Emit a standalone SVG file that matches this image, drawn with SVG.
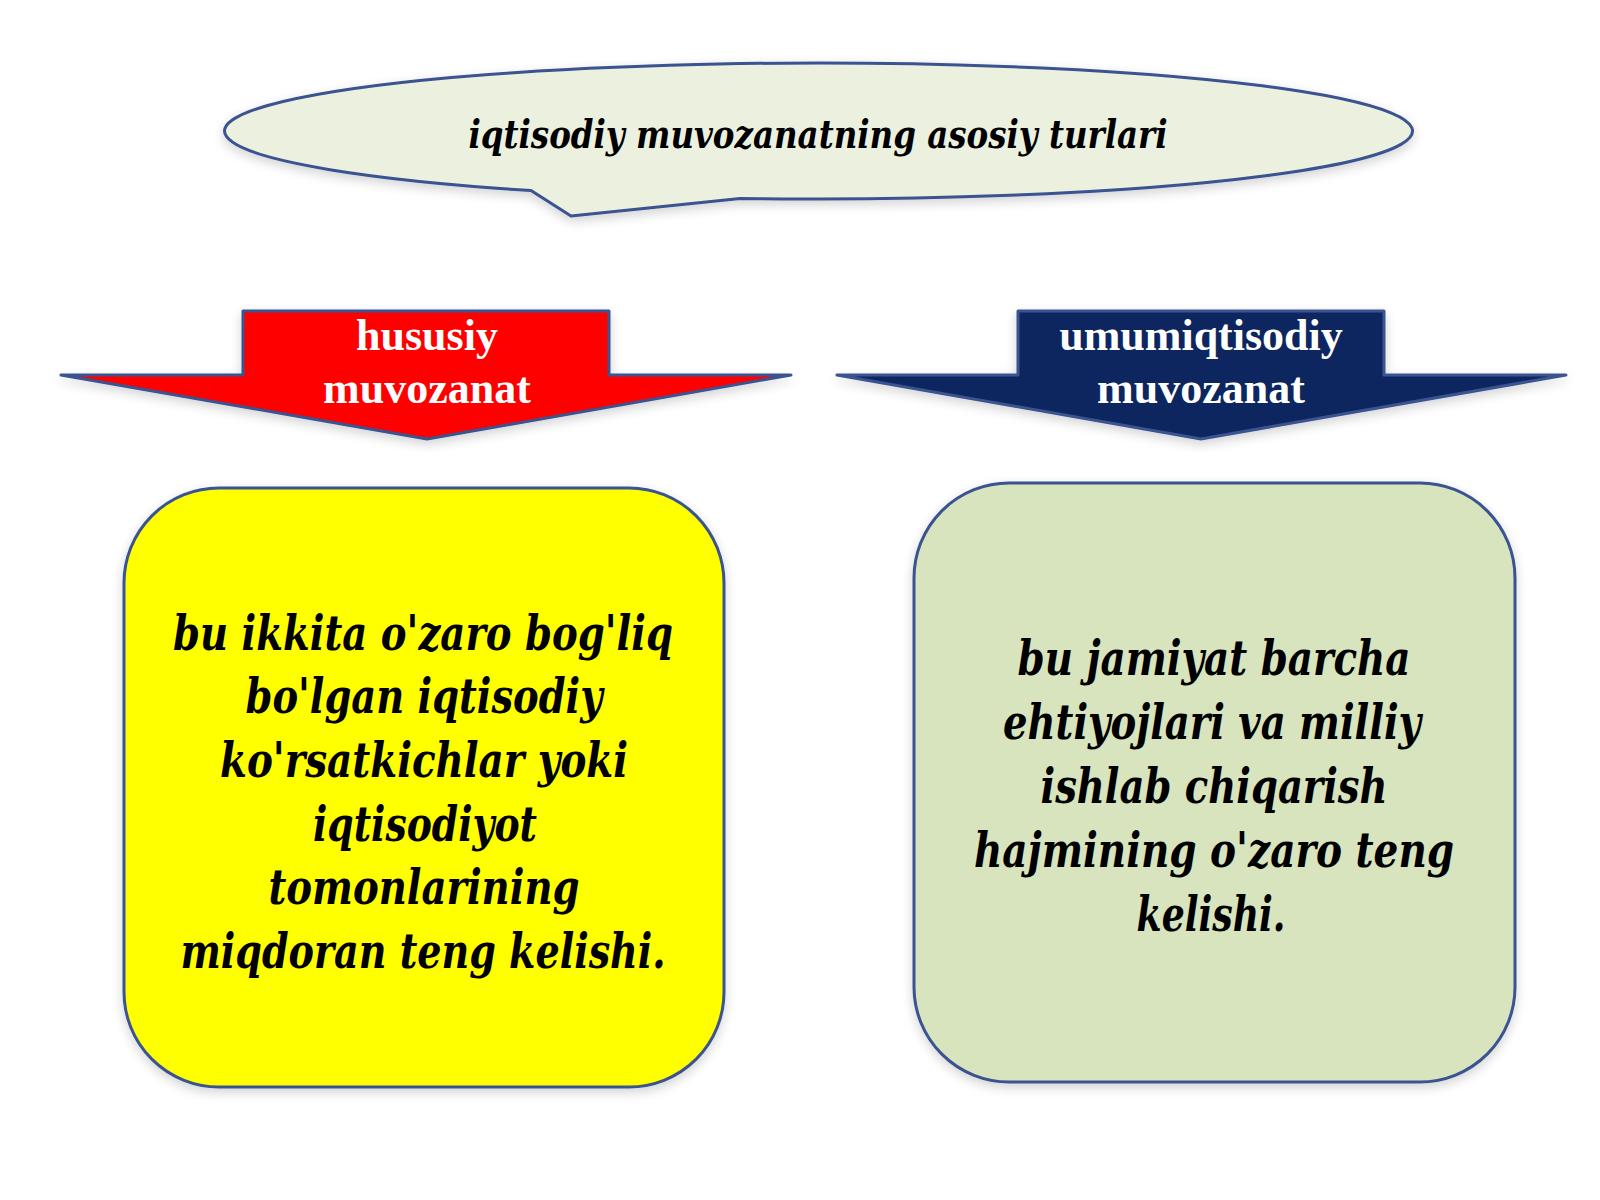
<svg xmlns="http://www.w3.org/2000/svg" width="1600" height="1200" viewBox="0 0 1600 1200">
<defs>
<filter id="sh" x="-10%" y="-10%" width="120%" height="125%">
<feGaussianBlur in="SourceAlpha" stdDeviation="6"/>
<feOffset dx="0" dy="4" result="b"/>
<feComponentTransfer><feFuncA type="linear" slope="0.18"/></feComponentTransfer>
<feMerge><feMergeNode/><feMergeNode in="SourceGraphic"/></feMerge>
</filter>
<style>
.edge{stroke:#3A5390;stroke-width:3;stroke-linejoin:round}
.body{font-family:"DejaVu Serif",serif;font-weight:bold;font-style:italic;font-size:48px;fill:#000;text-anchor:middle}
.title{font-family:"DejaVu Serif",serif;font-weight:bold;font-style:italic;font-size:39px;fill:#000;text-anchor:middle}
.head{font-family:"Liberation Serif","Times New Roman",serif;font-weight:bold;font-size:44px;fill:#fff;text-anchor:middle}
</style>
</defs>
<rect width="1600" height="1200" fill="#fff"/>
<g id="title">
<path class="edge" filter="url(#sh)" fill="#EBF1DE" d="M531,190.5 A594,68 0 1 1 740,198.4 L571,216 Z"/>
<text class="title" x="818" y="148" textLength="699" lengthAdjust="spacingAndGlyphs">iqtisodiy muvozanatning asosiy turlari</text>
</g>
<g id="connectors"></g>
<g id="hususiy">
<path class="edge" filter="url(#sh)" fill="#FF0000" d="M243,311 L609,311 L609,375 L791,375 L427,439 L61,375 L243,375 Z"/>
<text class="head" x="427" y="350">hususiy</text>
<text class="head" x="427" y="403">muvozanat</text>
</g>
<g id="umumiqtisodiy">
<path class="edge" filter="url(#sh)" fill="#10285E" d="M1018,311 L1384,311 L1384,375 L1566,375 L1201,439 L837,375 L1018,375 Z"/>
<text class="head" x="1201" y="350">umumiqtisodiy</text>
<text class="head" x="1201" y="403">muvozanat</text>
</g>
<g id="box-left">
<rect class="edge" filter="url(#sh)" x="124" y="488" width="600" height="599" rx="95" fill="#FFFF00"/>
<text class="body" x="423" y="650" textLength="500" lengthAdjust="spacingAndGlyphs">bu ikkita o'zaro bog'liq</text>
<text class="body" x="424" y="713" textLength="357" lengthAdjust="spacingAndGlyphs">bo'lgan iqtisodiy</text>
<text class="body" x="424" y="777" textLength="408" lengthAdjust="spacingAndGlyphs">ko'rsatkichlar yoki</text>
<text class="body" x="425" y="841" textLength="224" lengthAdjust="spacingAndGlyphs">iqtisodiyot</text>
<text class="body" x="424" y="904" textLength="311" lengthAdjust="spacingAndGlyphs">tomonlarining</text>
<text class="body" x="423" y="968" textLength="485" lengthAdjust="spacingAndGlyphs">miqdoran teng kelishi.</text>
</g>
<g id="box-right">
<rect class="edge" filter="url(#sh)" x="914" y="483" width="601" height="599" rx="95" fill="#D7E4BD"/>
<text class="body" x="1214" y="675" textLength="393" lengthAdjust="spacingAndGlyphs">bu jamiyat barcha</text>
<text class="body" x="1212" y="739" textLength="418" lengthAdjust="spacingAndGlyphs">ehtiyojlari va milliy</text>
<text class="body" x="1214" y="803" textLength="347" lengthAdjust="spacingAndGlyphs">ishlab chiqarish</text>
<text class="body" x="1214" y="867" textLength="480" lengthAdjust="spacingAndGlyphs">hajmining o'zaro teng</text>
<text class="body" x="1211" y="931" textLength="149" lengthAdjust="spacingAndGlyphs">kelishi.</text>
</g>
</svg>
